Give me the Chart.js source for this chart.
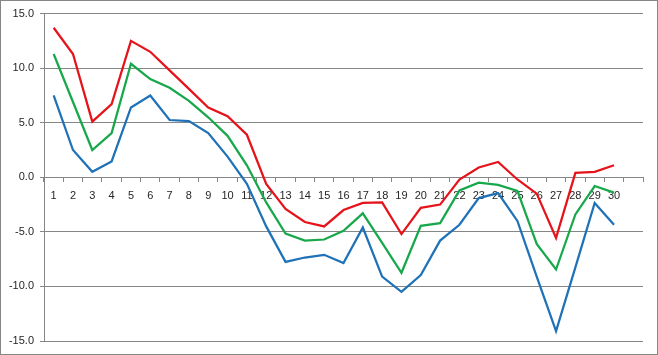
<!DOCTYPE html>
<html>
<head>
<meta charset="utf-8">
<script src="https://cdn.jsdelivr.net/npm/chart.js@4/dist/chart.umd.min.js"></script>
<style>
    html, body { margin: 0; padding: 0; background: #fff; }
    #wrap { width: 656px; height: 353px; border: 1px solid #868686; }
</style>
</head>
<body>
<div id="wrap"><canvas id="lineChart" width="656" height="353"></canvas></div>
<script>
// categories 1..30, plus one empty slot at the end (like the sheet range)
const labels = ['1','2','3','4','5','6','7','8','9','10','11','12','13','14','15',
    '16','17','18','19','20','21','22','23','24','25','26','27','28','29','30',''];

const redSeries = [13.7, 11.3, 5.1, 6.7, 12.5, 11.5, 9.8, 8.1, 6.4, 5.6, 3.9, -0.6, -2.9, -4.1, -4.5,
    -3.0, -2.35, -2.3, -5.2, -2.8, -2.5, -0.2, 0.9, 1.4, -0.2, -1.5, -5.55, 0.4, 0.5, 1.1];
const greenSeries = [11.3, 6.9, 2.5, 4.05, 10.4, 9.0, 8.2, 7.0, 5.5, 3.8, 1.1, -2.3, -5.15, -5.8, -5.7,
    -4.9, -3.3, -6.0, -8.75, -4.45, -4.2, -1.2, -0.5, -0.7, -1.25, -6.1, -8.45, -3.4, -0.8, -1.4];
const blueSeries = [7.5, 2.5, 0.5, 1.45, 6.4, 7.5, 5.25, 5.15, 4.05, 1.9, -0.6, -4.5, -7.75, -7.35, -7.1,
    -7.85, -4.6, -9.1, -10.5, -8.95, -5.8, -4.35, -1.9, -1.45, -4.0, -9.1, -14.1, -8.25, -2.35, -4.35];

const yTicks = [-15, -10, -5, 0, 5, 10, 15];

const gridColor = '#868686';
const textColor = '#262626';
const font = { family: 'Liberation Sans', size: 11 };

function lineSet(data, color) {
    return {
        data: data,
        borderColor: color,
        backgroundColor: color,
        borderWidth: 2.25,
        fill: false,
        pointRadius: 0,
        tension: 0
    };
}

const ctx = document.getElementById('lineChart').getContext('2d');

new Chart(ctx, {
    type: 'line',
    data: {
        labels: labels,
        datasets: [
            lineSet(blueSeries, '#1f72b8'),
            lineSet(greenSeries, '#18a84b'),
            lineSet(redSeries, '#e5141b')
        ]
    },
    options: {
        responsive: false,
        animation: false,
        layout: {
            padding: { top: 12, right: 14, bottom: 13, left: 0 }
        },
        scales: {
            x: {
                position: { y: 0 },
                offset: true,
                grid: {
                    offset: true,
                    drawOnChartArea: false,
                    drawTicks: true,
                    tickLength: 4,
                    color: gridColor
                },
                border: { display: true, color: gridColor },
                ticks: {
                    autoSkip: false,
                    maxRotation: 0,
                    padding: 8,
                    color: textColor,
                    font: font
                }
            },
            y: {
                min: -15,
                max: 15,
                afterBuildTicks: scale => {
                    scale.ticks = yTicks.map(v => ({ value: v }));
                },
                afterFit: scale => {
                    scale.width = 43;
                },
                grid: {
                    color: gridColor,
                    tickLength: 4
                },
                border: { display: true, color: gridColor },
                ticks: {
                    padding: 6,
                    color: textColor,
                    font: font,
                    callback: v => v.toFixed(1)
                }
            }
        },
        plugins: {
            legend: { display: false },
            tooltip: { enabled: false }
        }
    }
});
</script>
</body>
</html>
